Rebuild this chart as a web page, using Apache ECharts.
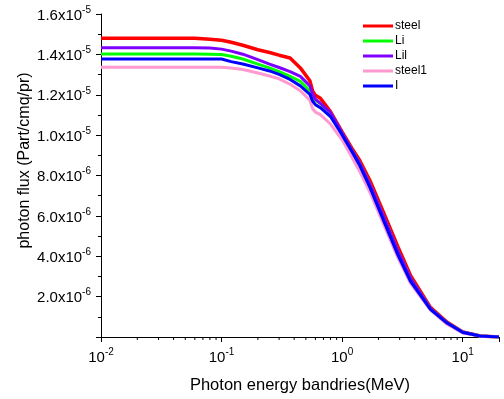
<!DOCTYPE html>
<html>
<head>
<meta charset="utf-8">
<script src="https://cdn.jsdelivr.net/npm/echarts@6/dist/echarts.min.js"></script>
<style>html,body{margin:0;padding:0;background:#fff}#c{width:504px;height:399px}</style>
</head>
<body>
<div id="c"></div>
<script>
// Photon energy (MeV)
var energy = [0.01, 0.02, 0.04, 0.06, 0.08, 0.1, 0.12, 0.15, 0.2, 0.25, 0.3, 0.37, 0.45, 0.54, 0.57, 0.6, 0.66, 0.8, 1.0, 1.2, 1.4, 1.7, 2.2, 2.9, 3.7, 5.4, 7.4, 10, 14, 20];
// photon flux, units of 1e-5
var steel  = [1.480, 1.480, 1.480, 1.480, 1.475, 1.470, 1.460, 1.445, 1.423, 1.409, 1.396, 1.382, 1.333, 1.269, 1.217, 1.198, 1.183, 1.117, 1.016, 0.937, 0.874, 0.775, 0.618, 0.447, 0.304, 0.147, 0.074, 0.025, 0.005, 0];
var Li     = [1.402, 1.402, 1.402, 1.402, 1.401, 1.399, 1.391, 1.377, 1.352, 1.333, 1.315, 1.291, 1.266, 1.220, 1.193, 1.173, 1.156, 1.109, 1.009, 0.928, 0.861, 0.756, 0.599, 0.427, 0.290, 0.142, 0.071, 0.025, 0.005, 0];
var LiI    = [1.433, 1.433, 1.433, 1.433, 1.431, 1.426, 1.416, 1.401, 1.374, 1.352, 1.335, 1.315, 1.291, 1.244, 1.202, 1.178, 1.158, 1.112, 1.011, 0.928, 0.861, 0.756, 0.599, 0.427, 0.290, 0.142, 0.071, 0.025, 0.005, 0];
var steel1 = [1.336, 1.336, 1.336, 1.336, 1.336, 1.336, 1.333, 1.325, 1.308, 1.293, 1.279, 1.252, 1.220, 1.173, 1.129, 1.114, 1.102, 1.055, 0.977, 0.893, 0.820, 0.717, 0.560, 0.393, 0.265, 0.133, 0.064, 0.020, 0.005, 0];
var I      = [1.377, 1.377, 1.377, 1.377, 1.377, 1.377, 1.364, 1.352, 1.333, 1.318, 1.301, 1.276, 1.244, 1.202, 1.168, 1.151, 1.136, 1.092, 1.001, 0.920, 0.849, 0.741, 0.579, 0.407, 0.275, 0.137, 0.069, 0.022, 0.005, 0];
var seriesLabels = ['steel', 'Li', 'Lil', 'steel1', 'I'];
var seriesValues = [steel, Li, LiI, steel1, I];
var seriesColors = ['#ff0000', '#00ff00', '#8000ff', '#ff99d0', '#0000ff'];
var seriesWidths = [3.5, 3, 3, 3, 3];
// y tick labels
var yTickMantissa = {2: '2.0', 4: '4.0', 6: '6.0', 8: '8.0', 10: '1.0', 12: '1.2', 14: '1.4', 16: '1.6'};
var yTickExp = {2: '-6', 4: '-6', 6: '-6', 8: '-6', 10: '-5', 12: '-5', 14: '-5', 16: '-5'};
// x minor tick positions (log axis)
var xMinorTicks = [0.02, 0.03, 0.04, 0.05, 0.06, 0.07, 0.08, 0.09, 0.2, 0.3, 0.4, 0.5, 0.6, 0.7, 0.8, 0.9, 2, 3, 4, 5, 6, 7, 8, 9];

var FONT = '"Liberation Sans", Arial, sans-serif';
var chart = echarts.init(document.getElementById('c'));

var series = seriesValues.map(function (vals, i) {
  return {
    name: seriesLabels[i],
    type: 'line',
    showSymbol: false,
    symbol: 'none',
    smooth: false,
    color: seriesColors[i],
    lineStyle: {width: seriesWidths[i], color: seriesColors[i]},
    data: energy.map(function (e, k) { return [e, vals[k] * 1e-5]; }),
    z: 2 + i
  };
});
series.push({
  type: 'custom',
  silent: true,
  clip: false,
  z: 1,
  data: xMinorTicks.map(function (e) { return [e, 0]; }),
  renderItem: function (params, api) {
    var p = api.coord([api.value(0), 0]);
    return {type: 'line', shape: {x1: p[0], y1: p[1], x2: p[0], y2: p[1] + 3}, style: {stroke: '#000', lineWidth: 1}};
  }
});

var richLabel = {
  b: {fontFamily: FONT, fontSize: 15, color: '#000', lineHeight: 18, verticalAlign: 'bottom'},
  s: {fontFamily: FONT, fontSize: 10, color: '#000', verticalAlign: 'top', lineHeight: 11}
};

chart.setOption({
  animation: false,
  backgroundColor: '#fff',
  grid: {left: 101, right: 5, top: 14, bottom: 59, containLabel: false},
  legend: {
    orient: 'vertical',
    left: 358,
    top: 14,
    icon: 'rect',
    itemWidth: 30,
    itemHeight: 3,
    itemGap: 1,
    data: seriesLabels,
    textStyle: {fontFamily: FONT, fontSize: 12, color: '#000', lineHeight: 14, padding: [0, 0, 0, -3]}
  },
  xAxis: {
    type: 'log',
    logBase: 10,
    min: 0.01,
    max: 20,
    name: 'Photon energy bandries(MeV)',
    nameLocation: 'middle',
    nameGap: 40,
    nameMoveOverlap: false,
    nameTextStyle: {fontFamily: FONT, fontSize: 16.5, color: '#000'},
    axisLine: {show: true, lineStyle: {color: '#000', width: 1}},
    axisTick: {show: true, length: 5, lineStyle: {color: '#000'}},
    splitLine: {show: false},
    minorTick: {show: false},
    axisLabel: {
      margin: 10,
      color: '#000',
      fontFamily: FONT,
      fontSize: 15,
      formatter: function (v) {
        var ex = Math.log10(v);
        var r = Math.round(ex);
        if (Math.abs(ex - r) > 1e-6) return '';
        return '{b|10}{s|' + r + '}';
      },
      rich: richLabel
    }
  },
  yAxis: {
    type: 'value',
    min: 0,
    max: 1.6e-5,
    interval: 2e-6,
    name: 'photon flux (Part/cmq/pr)',
    nameLocation: 'middle',
    nameGap: 68,
    nameMoveOverlap: false,
    nameTextStyle: {fontFamily: FONT, fontSize: 16, color: '#000', padding: [0, 0, 0, 30]},
    axisLine: {show: true, lineStyle: {color: '#000', width: 1}},
    axisTick: {show: true, length: 5, lineStyle: {color: '#000'}},
    minorTick: {show: true, splitNumber: 2, length: 3, lineStyle: {color: '#000'}},
    splitLine: {show: false},
    axisLabel: {
      margin: 10,
      color: '#000',
      fontFamily: FONT,
      fontSize: 15,
      formatter: function (v) {
        var k = Math.round(v * 1e6);
        if (k === 0) return '';
        return '{b|' + yTickMantissa[k] + 'x10}{s|' + yTickExp[k] + '}';
      },
      rich: richLabel
    }
  },
  series: series
});
</script>
</body>
</html>
